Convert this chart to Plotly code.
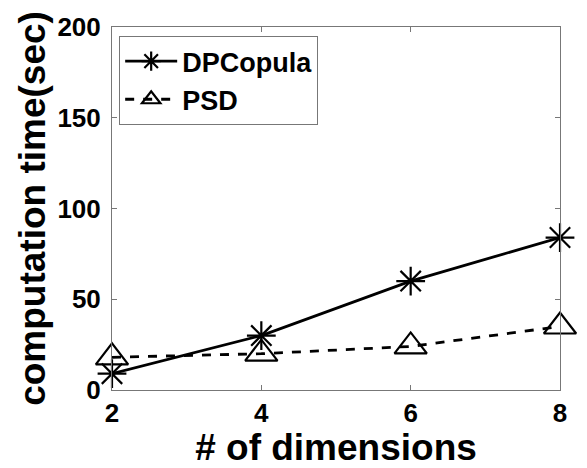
import plotly.graph_objects as go

dims = [2, 4, 6, 8]
dpcopula = [9, 30, 60, 84]
psd = [18, 20, 24, 35]

x_ticks = [2, 4, 6, 8]
y_ticks = [0, 50, 100, 150, 200]

font = "Liberation Sans, Arial, sans-serif"

fig = go.Figure()
fig.add_trace(go.Scatter(
    x=dims, y=dpcopula, name="<b>DPCopula</b>", mode="lines+markers",
    cliponaxis=False,
    line=dict(color="black", width=2.8),
    marker=dict(symbol="asterisk-open", size=24, color="black",
                line=dict(color="black", width=2.2)),
))
fig.add_trace(go.Scatter(
    x=dims, y=psd, name="<b>PSD</b>", mode="lines+markers",
    cliponaxis=False,
    line=dict(color="black", width=2.8, dash="dash"),
    marker=dict(symbol="triangle-up-open", size=28, color="black",
                line=dict(color="black", width=2.2)),
))

axis_common = dict(
    showgrid=False, zeroline=False, showline=True, linecolor="#777777",
    linewidth=1, mirror="ticks", ticks="inside", ticklen=5,
    tickcolor="#777777", tickfont=dict(family=font, size=26, color="black"),
)

fig.update_layout(
    width=587, height=468,
    margin=dict(l=112, r=27, t=25, b=78),
    paper_bgcolor="white", plot_bgcolor="white",
    font=dict(family=font, color="black"),
    showlegend=True,
    legend=dict(
        x=0.016, y=0.975, xanchor="left", yanchor="top",
        bordercolor="#777777", borderwidth=1, bgcolor="white",
        font=dict(family=font, size=27, color="black"),
        tracegroupgap=0, itemwidth=52,
    ),
    xaxis=dict(
        range=[2, 8], tickvals=x_ticks,
        ticktext=[f"<b>{v}</b>" for v in x_ticks],
        title=dict(text="<b># of dimensions</b>", standoff=0,
                   font=dict(family=font, size=37, color="black")),
        **axis_common,
    ),
    yaxis=dict(
        range=[0, 200], tickvals=y_ticks,
        ticktext=[f"<b>{v}</b>" for v in y_ticks],
        ticklabelstandoff=5,
        title=dict(text="<b>computation time(sec)</b>", standoff=0,
                   font=dict(family=font, size=37, color="black")),
        **axis_common,
    ),
)

fig.write_html("out.html")
